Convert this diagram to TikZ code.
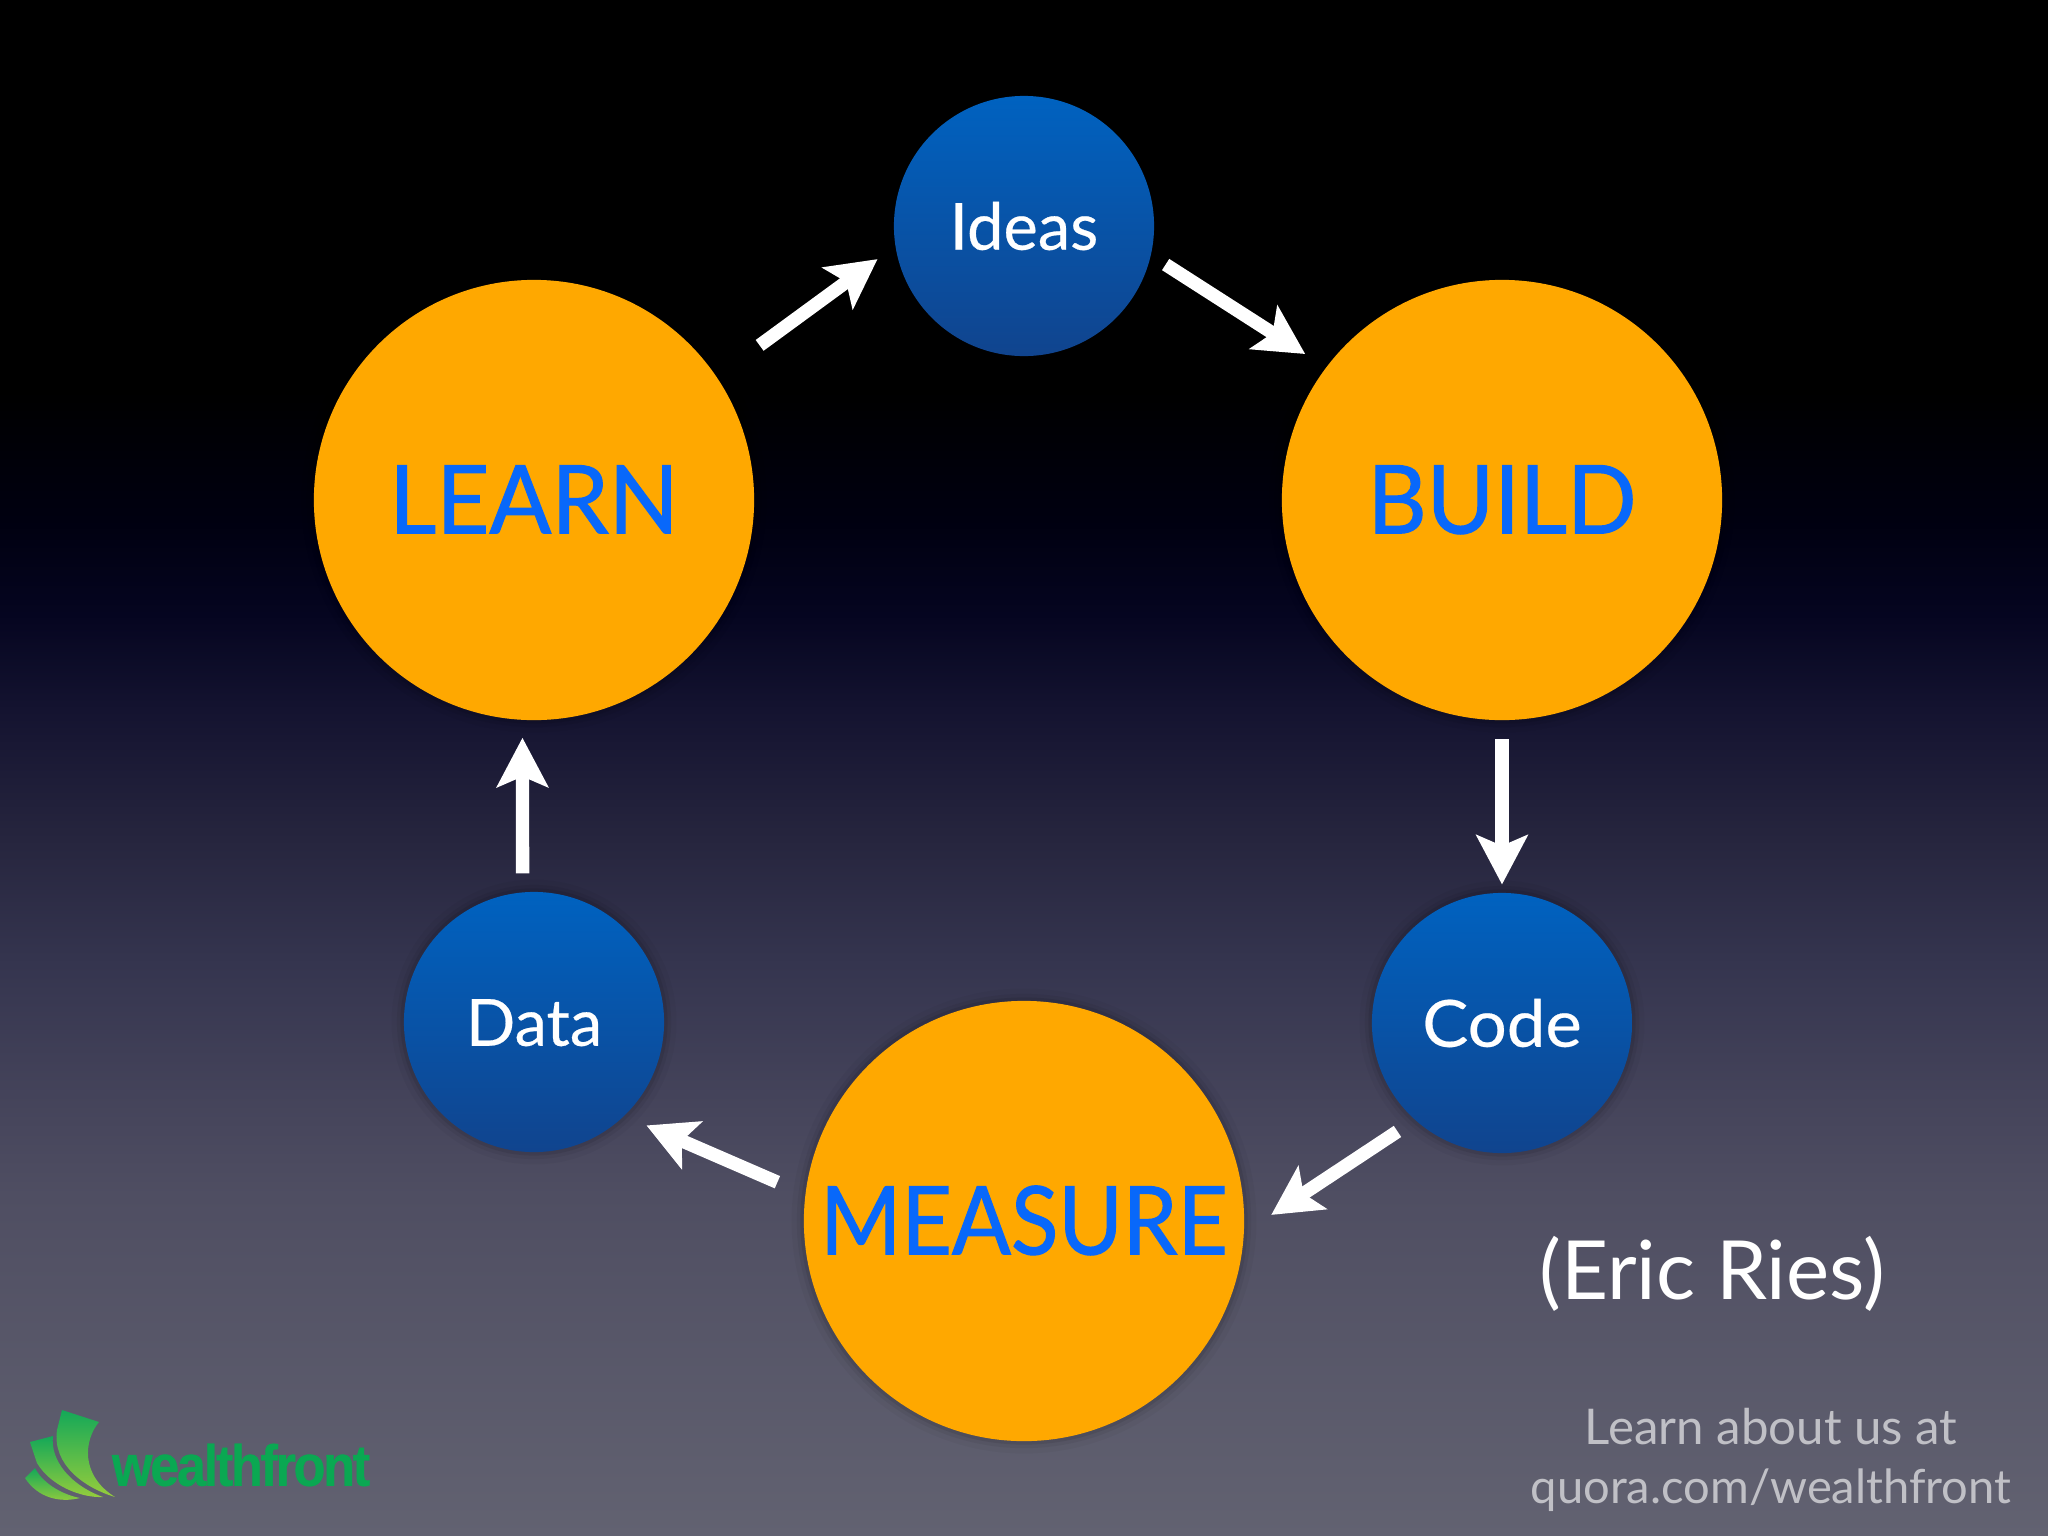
\documentclass[tikz,border=0pt]{standalone}
\usepackage{fontspec}
\setmainfont{Lato}
\newfontfamily\smallfont[FakeBold=.35]{Lato}
\newfontfamily\codefont[FakeBold=.35,FakeStretch=1.06]{Lato}
\newfontfamily\bigfont[FakeStretch=.965,FakeBold=1.1]{Lato}
\newfontfamily\widefont[FakeStretch=.92,FakeBold=1.1]{Lato}
\newfontfamily\logofont[LetterSpace=-4,FakeStretch=.9,FakeBold=.6]{Liberation Sans}
\usetikzlibrary{arrows.meta}
\definecolor{bga}{RGB}{0,0,0}
\definecolor{bgb}{RGB}{0,0,16}
\definecolor{bgc}{RGB}{5,5,32}
\definecolor{bgd}{RGB}{20,19,48}
\definecolor{bge}{RGB}{38,37,62}
\definecolor{bgf}{RGB}{53,53,79}
\definecolor{bgg}{RGB}{68,67,90}
\definecolor{bgi}{RGB}{79,78,98}
\definecolor{bgh}{RGB}{98,98,113}
\definecolor{orangefill}{RGB}{255,168,0}
\definecolor{bluetop}{RGB}{0,98,192}
\definecolor{bluebot}{RGB}{16,68,142}
\definecolor{bluetext}{RGB}{8,104,250}
\definecolor{graytext}{RGB}{192,192,198}
\definecolor{logogreen}{RGB}{10,168,82}
\definecolor{leaftop}{RGB}{20,168,88}
\definecolor{leafbot}{RGB}{150,205,60}
\pgfdeclareverticalshading{slidebg}{100bp}{
 color(0bp)=(bgh); color(25bp)=(bgh);
 color(36.1bp)=(bgi); color(39.4bp)=(bgg); color(43.6bp)=(bgf);
 color(47.7bp)=(bge); color(51.9bp)=(bgd); color(55bp)=(bgc);
 color(58.1bp)=(bgb); color(62.3bp)=(bga); color(100bp)=(bga)}
\tikzset{
 x=0.01cm,y=-0.01cm,
 halo/.style={
   preaction={draw=black,draw opacity=.03,line width=7pt},
   preaction={draw=black,draw opacity=.05,line width=4pt},
   preaction={draw=black,draw opacity=.08,line width=2pt}},
 big/.style={circle,minimum size=4.4cm,inner sep=0pt,fill=orangefill,halo,
   text=bluetext,font=\bigfont\fontsize{27}{27}\selectfont,text height=19pt,text depth=0pt},
 small/.style={circle,minimum size=2.6cm,inner sep=0pt,top color=bluetop,bottom color=bluebot,halo,
   text=white,font=\smallfont\fontsize{18.5}{18.5}\selectfont,text height=13.5pt,text depth=0pt},
 flow/.style={draw=white,line width=3.8pt,-{Stealth[length=14pt,width=14.5pt,inset=3pt,fill=white]}},
 note/.style={inner sep=0pt,text=white,font=\fontsize{23.2}{23.2}\selectfont},
 about/.style={inner sep=0pt,text=graytext,font=\fontsize{14}{14}\selectfont},
 leaf/.style={top color=leaftop,bottom color=leafbot,draw=none},
}
\begin{document}
\begin{tikzpicture}
\useasboundingbox (0,0) rectangle (2048,1536);
\shade[shading=slidebg] (0,0) rectangle (2048,1536);
\node[small] (ideas) at (1024,226) {Ideas};
\node[big] (learn) at (534,500) {LEARN};
\node[big] (build) at (1502,500) {BUILD};
\node[big] (measure) at (1024,1221) {\widefont MEASURE};
\node[small] (data) at (534,1022) {Data};
\node[small] (code) at (1502,1023) {\codefont Code};
\draw[flow,shorten <=15pt,shorten >=6.1pt] (learn.34.5) -- (ideas.189.4);
\draw[flow,shorten <=4.8pt,shorten >=6.9pt] (ideas.-13.9) -- (build.143);
\draw[flow,shorten <=5.3pt,shorten >=2.2pt] (build.-90) -- (code.90);
\draw[flow,shorten <=5.8pt,shorten >=9.1pt] (code.-132.1) -- (measure.-3.6);
\draw[flow,shorten <=8.5pt,shorten >=6.7pt] (measure.173.5) -- (data.-46.8);
\draw[flow,shorten <=5.2pt,shorten >=4.9pt] (data.95.2) -- (learn.-93.3);
\node[note] (eric) at (1712,1274) {(Eric Ries)};
\node[about] (about1) at (1771,1427) {Learn about us at};
\node[about,font=\fontsize{13.4}{13.4}\selectfont] (about2) at (1771,1490) {quora.com/wealthfront};
\path[leaf] (62,1410) -- (99,1422) .. controls (84,1440) and (80,1475) .. (115,1497) .. controls (85,1488) and (52,1465) .. (57,1430) -- cycle;
\path[leaf] (30,1442) -- (53,1436) .. controls (50,1460) and (70,1485) .. (103,1497) .. controls (80,1498) and (50,1485) .. (37,1463) -- cycle;
\path[leaf] (25,1478) -- (35,1468) .. controls (42,1482) and (60,1494) .. (80,1498) .. controls (60,1503) and (38,1498) .. (25,1478) -- cycle;
\node[inner sep=0pt,text=logogreen,font=\logofont\bfseries\fontsize{16.5}{16.5}\selectfont] (logo) at (241,1465) {wealthfront};
\end{tikzpicture}
\end{document}
